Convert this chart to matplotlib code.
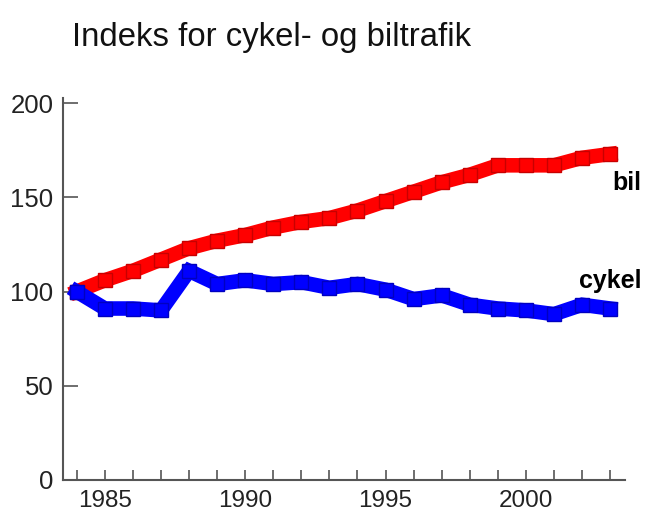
import matplotlib
matplotlib.use("Agg")
import matplotlib.pyplot as plt

# index values (1984 = 100)
years = list(range(1984, 2004))
bil = [100, 106, 111, 117, 123, 127, 130, 134, 137, 139,
       143, 148, 153, 158, 162, 167, 167, 167, 171, 173]
cykel = [100, 91, 91, 90, 111, 104, 106, 104, 105, 102,
         104, 101, 96, 98, 93, 91, 90, 88, 93, 91]

xtick_labels = [1985, 1990, 1995, 2000]
ytick_values = [0, 50, 100, 150, 200]

plt.rcParams['font.family'] = ['Liberation Sans', 'DejaVu Sans']

fig = plt.figure(figsize=(6.45, 5.17), dpi=100)
ax = fig.add_axes([0.0977, 0.0716, 0.8713, 0.738])

# thick lines with square markers
ax.plot(years, bil, color='#ff0000', lw=10.5, solid_joinstyle='miter',
        marker='s', markersize=10.5, markerfacecolor='#ff0000',
        markeredgecolor='#c80000', markeredgewidth=1)
ax.plot(years, cykel, color='#0000ff', lw=10.5, solid_joinstyle='miter',
        marker='s', markersize=10.5, markerfacecolor='#0000ff',
        markeredgecolor='#0000c0', markeredgewidth=1)

ax.set_xlim(1983.51, 2003.53)
ax.set_ylim(0, 202.5)

ax.set_xticks(years)
ax.set_xticklabels([str(y) if y in xtick_labels else '' for y in years])
ax.set_yticks(ytick_values)

for s in ['top', 'right']:
    ax.spines[s].set_visible(False)
for s in ['left', 'bottom']:
    ax.spines[s].set_color('#555555')
    ax.spines[s].set_linewidth(1.5)

ax.tick_params(axis='x', direction='in', length=7, width=1.2, color='#555555',
               labelsize=17.5, labelcolor='#222222', pad=7)
ax.tick_params(axis='y', direction='in', length=11, width=1.2, color='#555555',
               labelsize=18.5, labelcolor='#222222', pad=7)

# series labels
ax.text(2004.12, 153.8, 'bil', ha='right', va='baseline', fontsize=18,
        fontweight='bold', color='black', clip_on=False)
ax.text(2004.12, 101.9, 'cykel', ha='right', va='baseline', fontsize=18,
        fontweight='bold', color='black', clip_on=False)

fig.text(72 / 645, 1 - 46 / 517, 'Indeks for cykel- og biltrafik',
         fontsize=23.7, color='#111111', ha='left', va='baseline')

fig.savefig('out.png', dpi=100)
